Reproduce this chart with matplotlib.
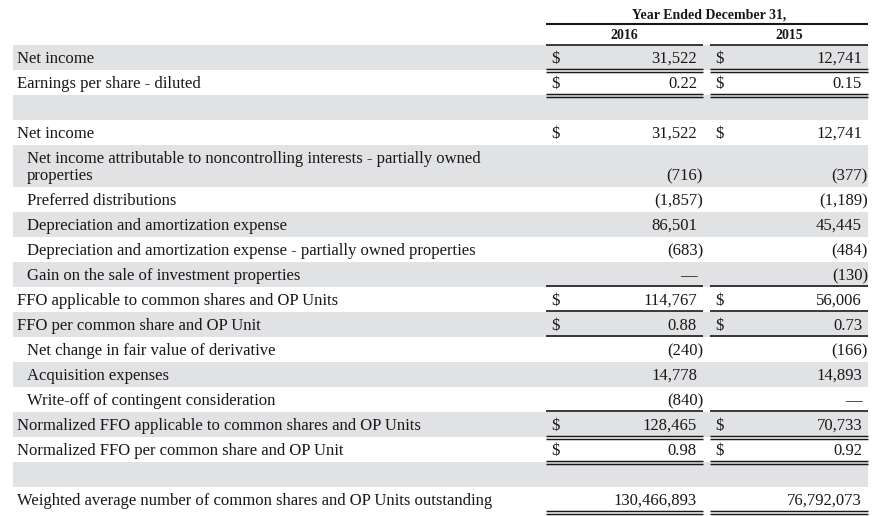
import matplotlib
matplotlib.use("Agg")
from matplotlib import pyplot as plt
from matplotlib.patches import Rectangle

# dados da tabela
labels = [
    "Net income",
    "Earnings per share - diluted",
    "",
    "Net income",
    "Net income attributable to noncontrolling interests - partially owned\nproperties",
    "Preferred distributions",
    "Depreciation and amortization expense",
    "Depreciation and amortization expense - partially owned properties",
    "Gain on the sale of investment properties",
    "FFO applicable to common shares and OP Units",
    "FFO per common share and OP Unit",
    "Net change in fair value of derivative",
    "Acquisition expenses",
    "Write-off of contingent consideration",
    "Normalized FFO applicable to common shares and OP Units",
    "Normalized FFO per common share and OP Unit",
    "",
    "Weighted average number of common shares and OP Units outstanding",
]
indented = [0, 0, 0, 0, 1, 1, 1, 1, 1, 0, 0, 1, 1, 1, 0, 0, 0, 0]
dollar = [1, 1, 0, 1, 0, 0, 0, 0, 0, 1, 1, 0, 0, 0, 1, 1, 0, 0]
vals_2016 = ["31,522", "0.22", "", "31,522", "(716)", "(1,857)", "86,501", "(683)", "\u2014",
             "114,767", "0.88", "(240)", "14,778", "(840)", "128,465", "0.98", "", "130,466,893"]
vals_2015 = ["12,741", "0.15", "", "12,741", "(377)", "(1,189)", "45,445", "(484)", "(130)",
             "56,006", "0.73", "(166)", "14,893", "\u2014", "70,733", "0.92", "", "76,792,073"]
# linha abaixo: 0 nada, 1 simples, 2 dupla
rule_below = [2, 2, 0, 0, 0, 0, 0, 0, 1, 1, 1, 0, 0, 1, 2, 2, 0, 2]
header = "Year Ended December 31,"
years = ["2016", "2015"]

cor_txt = "#1A1718"
cor_cinza = "#E1E2E4"
serif = "Liberation Serif"

fig = plt.figure(figsize=(8.74, 5.16), dpi=100)
ax = fig.add_axes([0, 0, 1, 1])
ax.set_xlim(0, 874)
ax.set_ylim(516, 0)
ax.axis("off")

# colunas
c1 = (546, 703)
c2 = (710, 868)
colunas = [c1, c2]

def linha(y, x0, x1, lw=1.0):
    ax.plot([x0, x1], [y, y], color=cor_txt, lw=lw, solid_capstyle="butt")

def texto(x, y, s, ha="left", **kw):
    ax.text(x, y, s, ha=ha, va="baseline", fontsize=12, family=serif,
            color=cor_txt, **kw)

# cabecalho
ax.text((c1[0] + c2[1]) / 2 + 2, 18.5, header, ha="center", va="baseline",
        fontsize=10, fontweight="bold", family=serif, color=cor_txt)
linha(24, c1[0], c2[1], lw=1.5)
for (x0, x1), ano in zip(colunas, years):
    ax.text((x0 + x1) / 2, 39, ano, ha="center", va="baseline",
            fontsize=10, fontweight="bold", family=serif, color=cor_txt)
    linha(44.5, x0, x1, lw=1.2)

y = 45
for i, lab in enumerate(labels):
    partes = lab.split("\n")
    h = 25 + 17 * (len(partes) - 1)
    if i % 2 == 0:
        ax.add_patch(Rectangle((13, y), 855, h, color=cor_cinza, lw=0, zorder=0))
    base = y + 12.5 + 5.5
    xl = 27 if indented[i] else 17
    for j, p in enumerate(partes):
        texto(xl, base + 17 * j, p)
    yv = base + 17 * (len(partes) - 1)
    for v, (x0, x1) in zip([vals_2016[i], vals_2015[i]], colunas):
        if dollar[i]:
            texto(x0 + 5, yv, "$")
        if v:
            xr = x1 if v.endswith(")") else x1 - 6
            texto(xr, yv, v, ha="right")
        yb = y + h
        if rule_below[i] == 1:
            linha(yb - 1.5, x0, x1, lw=1.2)
        elif rule_below[i] == 2:
            linha(yb - 1.5, x0, x1, lw=1.05)
            linha(yb + 1.5, x0, x1, lw=1.05)
    y += h

fig.savefig("out.png", dpi=100)
